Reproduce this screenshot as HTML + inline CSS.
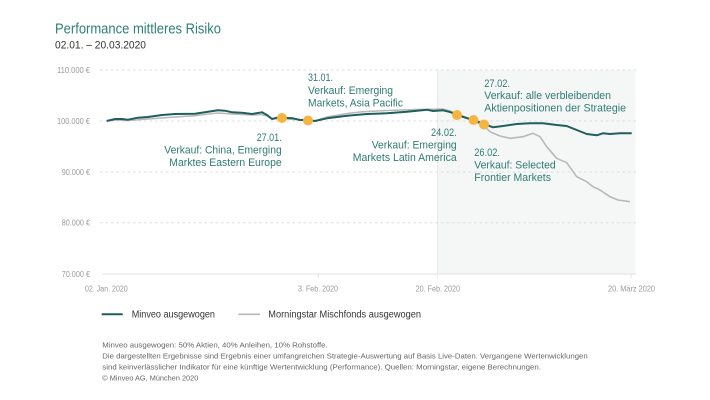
<!DOCTYPE html>
<html><head><meta charset="utf-8"><style>
html,body{margin:0;padding:0;background:#fff;}
svg{display:block;}
text{font-family:"Liberation Sans",sans-serif;}
</style></head><body>
<svg width="710" height="400" viewBox="0 0 710 400" xmlns="http://www.w3.org/2000/svg">
<rect width="710" height="400" fill="#fff"/>
<!-- title -->
<text x="55" y="33.3" font-size="15" fill="#2f7f78" textLength="166" lengthAdjust="spacingAndGlyphs">Performance mittleres Risiko</text>
<text x="55" y="48.7" font-size="11" fill="#333" textLength="91" lengthAdjust="spacingAndGlyphs">02.01. – 20.03.2020</text>

<!-- shaded region -->
<rect x="437.7" y="70" width="198" height="204" fill="#f5f7f6"/>
<line x1="437.7" y1="70" x2="437.7" y2="278" stroke="#e4e6e5" stroke-width="1"/>

<!-- gridlines -->
<g stroke="#dcdcdc" stroke-width="1" stroke-dasharray="2.5,3">
<line x1="100" y1="70" x2="636" y2="70"/>
<line x1="100" y1="121" x2="636" y2="121"/>
<line x1="100" y1="172" x2="636" y2="172"/>
<line x1="100" y1="222.7" x2="636" y2="222.7"/>
</g>
<line x1="102" y1="274" x2="636" y2="274" stroke="#e2e2e2" stroke-width="1"/>
<g stroke="#e2e2e2" stroke-width="1">
<line x1="318.3" y1="274" x2="318.3" y2="278"/>
<line x1="631" y1="274" x2="631" y2="278"/>
</g>

<!-- y labels -->
<g font-size="8" fill="#9a9a9a" text-anchor="end">
<text x="90" y="73" textLength="33" lengthAdjust="spacingAndGlyphs">110.000 €</text>
<text x="90" y="124" textLength="33" lengthAdjust="spacingAndGlyphs">100.000 €</text>
<text x="90" y="175" textLength="28.3" lengthAdjust="spacingAndGlyphs">90.000 €</text>
<text x="90" y="225.7" textLength="28.3" lengthAdjust="spacingAndGlyphs">80.000 €</text>
<text x="90" y="277" textLength="28.3" lengthAdjust="spacingAndGlyphs">70.000 €</text>
</g>
<!-- x labels -->
<g font-size="8" fill="#9a9a9a">
<text x="85" y="291.5" textLength="42.7" lengthAdjust="spacingAndGlyphs">02. Jan. 2020</text>
<text x="298" y="291.5" textLength="40" lengthAdjust="spacingAndGlyphs">3. Feb. 2020</text>
<text x="415.7" y="291.5" textLength="44.3" lengthAdjust="spacingAndGlyphs">20. Feb. 2020</text>
<text x="608" y="291.5" textLength="47" lengthAdjust="spacingAndGlyphs">20. März 2020</text>
</g>

<!-- series -->
<path d="M106.7,121 L115,120 L128,120.5 L148,119 L175,117 L195,115.7 L208,114 L218,113 L232,114 L252,115 L262,114.5 L267,116 L272,119 L282,118.5 L300,120 L315,121 L327,117 L347,113.5 L363,111.7 L387,110.5 L413,109.7 L443,109 L450,111 L457,114 L465,117 L473,121 L484,126 L490,131.7 L500,136 L510,138.3 L523,136.7 L533,133.3 L540,136.7 L546.7,146.7 L556.7,158.3 L566.7,162.7 L576.7,176.7 L586.7,181.7 L593,186.7 L600,190 L610,196.7 L618,200 L630,201.7" fill="none" stroke="#b8b8b8" stroke-width="1.6" stroke-linejoin="round"/>
<path d="M106.7,121 L115,119 L122,119 L128,119.7 L138,117.7 L148,117 L162,115 L175,114 L195,113.7 L208,111.7 L218,110.3 L225,110.7 L232,112.3 L242,112.7 L252,114 L262,112.3 L267,115 L272,119 L277,117.7 L282,117.7 L293,118.3 L300,120 L308,120 L315,121 L327,118.3 L347,115.7 L367,114 L387,113.3 L407,111.7 L427,109.7 L433,111 L443,110.3 L450,112 L457,115 L465,117.5 L473,120 L479,122 L484,124 L493,127.3 L503,126 L516.7,124 L530,123.3 L543,123.3 L556.7,125 L566.7,126 L576.7,130 L586.7,134 L596.7,135.3 L603,133.3 L610,134 L620,133.3 L631.7,133.3" fill="none" stroke="#1f5f5c" stroke-width="2" stroke-linejoin="round"/>

<!-- dots -->
<g fill="#f6b540">
<circle cx="282" cy="118" r="5"/>
<circle cx="308" cy="120.5" r="5"/>
<circle cx="457" cy="115" r="5"/>
<circle cx="473.5" cy="120" r="5"/>
<circle cx="484" cy="124.5" r="5"/>
</g>

<!-- annotations -->
<g font-size="11" fill="#2f7b74">
<text x="308" y="81" textLength="25" lengthAdjust="spacingAndGlyphs">31.01.</text>
<text x="308" y="94" textLength="85" lengthAdjust="spacingAndGlyphs">Verkauf: Emerging</text>
<text x="308" y="106.5" textLength="95" lengthAdjust="spacingAndGlyphs">Markets, Asia Pacific</text>

<text x="281.7" y="141" text-anchor="end" textLength="25" lengthAdjust="spacingAndGlyphs">27.01.</text>
<text x="281.7" y="153.5" text-anchor="end" textLength="117.4" lengthAdjust="spacingAndGlyphs">Verkauf: China, Emerging</text>
<text x="281.7" y="166" text-anchor="end" textLength="112.4" lengthAdjust="spacingAndGlyphs">Marktes Eastern Europe</text>

<text x="456.7" y="136" text-anchor="end" textLength="25.7" lengthAdjust="spacingAndGlyphs">24.02.</text>
<text x="456.7" y="148.5" text-anchor="end" textLength="85" lengthAdjust="spacingAndGlyphs">Verkauf: Emerging</text>
<text x="456.7" y="161" text-anchor="end" textLength="104" lengthAdjust="spacingAndGlyphs">Markets Latin America</text>

<text x="474.3" y="156" textLength="25.7" lengthAdjust="spacingAndGlyphs">26.02.</text>
<text x="474.3" y="168.5" textLength="81.4" lengthAdjust="spacingAndGlyphs">Verkauf: Selected</text>
<text x="474.3" y="181" textLength="76.7" lengthAdjust="spacingAndGlyphs">Frontier Markets</text>

<text x="484.3" y="87" textLength="25.7" lengthAdjust="spacingAndGlyphs">27.02.</text>
<text x="484.3" y="99" textLength="126.7" lengthAdjust="spacingAndGlyphs">Verkauf: alle verbleibenden</text>
<text x="484.3" y="111.5" textLength="141.7" lengthAdjust="spacingAndGlyphs">Aktienpositionen der Strategie</text>
</g>

<!-- legend -->
<line x1="101.7" y1="314.3" x2="122.7" y2="314.3" stroke="#1f5f5c" stroke-width="2"/>
<text x="131.7" y="317.7" font-size="10" fill="#333" textLength="83.3" lengthAdjust="spacingAndGlyphs">Minveo ausgewogen</text>
<line x1="238.3" y1="314.3" x2="260" y2="314.3" stroke="#b8b8b8" stroke-width="1.6"/>
<text x="268.3" y="317.7" font-size="10" fill="#333" textLength="152.7" lengthAdjust="spacingAndGlyphs">Morningstar Mischfonds ausgewogen</text>

<!-- footnote -->
<g font-size="7.5" fill="#666">
<text x="102.3" y="347.7" textLength="225.4" lengthAdjust="spacingAndGlyphs">Minveo ausgewogen: 50% Aktien, 40% Anleihen, 10% Rohstoffe.</text>
<text x="102.3" y="358.7" textLength="485.4" lengthAdjust="spacingAndGlyphs">Die dargestellten Ergebnisse sind Ergebnis einer umfangreichen Strategie-Auswertung auf Basis Live-Daten. Vergangene Wertenwicklungen</text>
<text x="102.3" y="369.5" textLength="438.7" lengthAdjust="spacingAndGlyphs">sind keinverlässlicher Indikator für eine künftige Wertentwicklung (Performance). Quellen: Morningstar, eigene Berechnungen.</text>
<text x="102.3" y="380.3" textLength="96" lengthAdjust="spacingAndGlyphs">© Minveo AG, München 2020</text>
</g>
</svg>
</body></html>
